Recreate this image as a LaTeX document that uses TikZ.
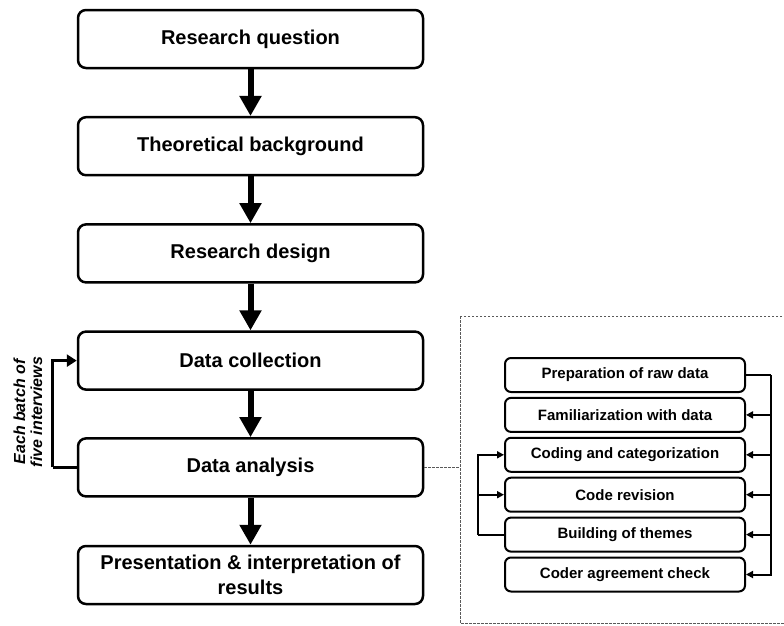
\documentclass[tikz,border=0pt]{standalone}
\usepackage{fontspec}
\setmainfont{Liberation Sans}
\usetikzlibrary{arrows.meta}
\begin{document}
\begin{tikzpicture}[x=1pt,y=-1pt,
  mainbox/.style={draw, line width=2.5pt, rounded corners=8pt, minimum width=345pt,
    minimum height=58pt, align=center, inner sep=2pt,
    font=\fontsize{20}{24.5}\selectfont\bfseries},
  subbox/.style={draw, line width=2pt, rounded corners=6pt, minimum width=240pt,
    minimum height=34pt, inner sep=1pt, font=\fontsize{15}{17}\selectfont\bfseries},
  bigarrow/.style={line width=6pt, -{Triangle[length=20pt,width=21pt]}},
  fbline/.style={line width=3pt, -{Triangle[length=10pt,width=12pt]}},
  subline/.style={line width=2pt},
  subarrow/.style={line width=2pt, -{Triangle[length=7pt,width=7pt]}},
  dashline/.style={draw=black!65, line width=0.9pt, dash pattern=on 2.5pt off 1.5pt},
  sidelabel/.style={rotate=90, align=center,
    font=\fontsize{16}{17}\selectfont\bfseries\itshape}
]
\useasboundingbox (0,0) rectangle (784,625);
\clip (0,0) rectangle (784,625);

% main column
\node[mainbox] (m1) at (250.5,39) {Research question};
\node[mainbox] (m2) at (250.5,146.2) {Theoretical background};
\node[mainbox] (m3) at (250.5,253.4) {Research design};
\node[mainbox] (m4) at (250.5,360.6) {Data collection};
\node[mainbox] (m5) at (250.5,467.4) {Data analysis};
\node[mainbox] (m6) at (250.5,575) {Presentation \& interpretation of\\results};

\draw[bigarrow] (m1.south) -- (m2.north);
\draw[bigarrow] (m2.south) -- (m3.north);
\draw[bigarrow] (m3.south) -- (m4.north);
\draw[bigarrow] (m4.south) -- (m5.north);
\draw[bigarrow] (m5.south) -- (m6.north);

% feedback loop
\draw[line width=3pt] (m5.west) -- ++(-24,0) coordinate (fb);
\draw[fbline] (fb) |- (m4.west);
\node[sidelabel] (lbl) at (28,412) {Each batch of\\five interviews};

% dashed detail frame
\draw[dashline] (460,316) rectangle (790,623);
\coordinate (fl) at (460,467.4);
\draw[dashline] (m5.east) -- (fl);

% sub steps
\node[subbox] (s1) at (625,375) {Preparation of raw data};
\node[subbox] (s2) at (625,414.9) {Familiarization with data};
\node[subbox] (s3) at (625,454.8) {Coding and categorization};
\node[subbox] (s4) at (625,494.7) {Code revision};
\node[subbox] (s5) at (625,534.6) {Building of themes};
\node[subbox] (s6) at (625,574.5) {Coder agreement check};

% right bus
\draw[subline] (s1.east) -- ++(25,0) coordinate (rb);
\draw[subarrow] (rb) |- (s6.east);
\draw[subarrow] (rb |- s2.east) -- (s2.east);
\draw[subarrow] (rb |- s3.east) -- (s3.east);
\draw[subarrow] (rb |- s4.east) -- (s4.east);
\draw[subarrow] (rb |- s5.east) -- (s5.east);

% left bus
\draw[subline] (s5.west) -- ++(-26,0) coordinate (lb);
\draw[subarrow] (lb) |- (s3.west);
\draw[subarrow] (lb |- s4.west) -- (s4.west);
\end{tikzpicture}
\end{document}
